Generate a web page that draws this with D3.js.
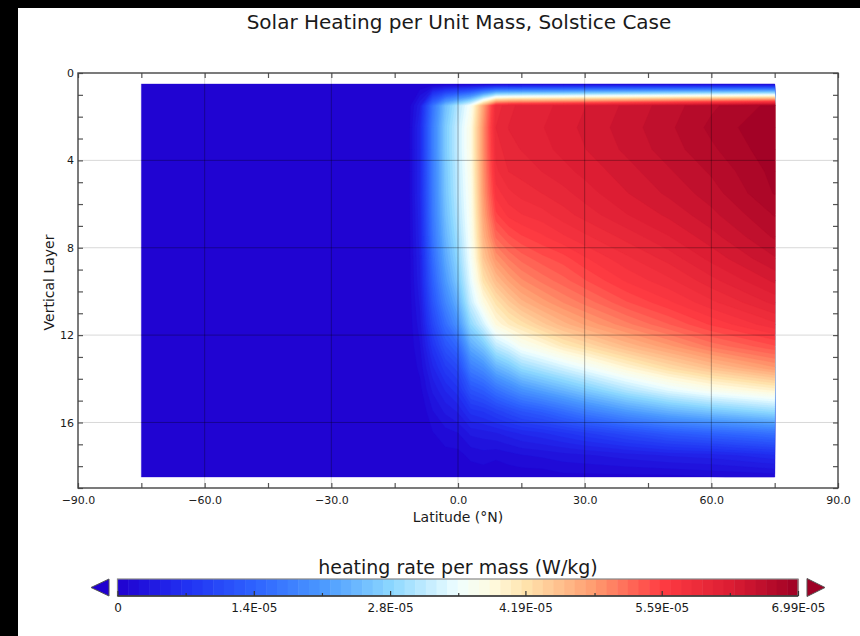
<!DOCTYPE html>
<html>
<head>
<meta charset="utf-8">
<script src="https://cdn.jsdelivr.net/npm/d3@7"></script>
<style>
  body { margin: 0; background: #fff; }
  svg { display: block; }
  text { font-family: "DejaVu Sans", sans-serif; fill: #1a1a1a; }
</style>
</head>
<body>
<svg id="chart" width="860" height="636"></svg>
<script>
// grid latitudes (deg N), one column of the heating table each
const lats = [-75, -12, -9, -6, -3, 0, 3, 6, 9, 12, 15, 20, 25, 30, 40, 50, 60, 75]
// vertical positions of the grid rows (layer interfaces)
const layers = [0.5, 1.5, 2.5, 3.5, 4.5, 5.5, 6.5, 7.5, 8.5, 9.5, 10.5, 11.5, 12.5, 13.5, 14.5, 15.5, 16.5, 17.5, 18.5]

// heating rate per mass in units of 1e-5 W/kg, one row per latitude, top of the column first
const heating = [
  [0, 0, 0, 0, 0, 0, 0, 0, 0, 0, 0, 0, 0, 0, 0, 0, 0, 0, 0],
  [0, 0, 0, 0, 0, 0, 0, 0, 0, 0, 0, 0, 0, 0, 0, 0, 0, 0, 0],
  [0, 0.42, 0.56, 0.56, 0.56, 0.56, 0.52, 0.49, 0.45, 0.42, 0.35, 0.28, 0.21, 0.14, 0.07, 0, 0, 0, 0],
  [0, 1.61, 1.75, 1.75, 1.73, 1.71, 1.68, 1.61, 1.50, 1.36, 1.19, 0.98, 0.73, 0.52, 0.35, 0.21, 0.10, 0.03, 0],
  [0, 2.52, 2.66, 2.66, 2.62, 2.59, 2.52, 2.41, 2.27, 2.10, 1.85, 1.54, 1.19, 0.84, 0.56, 0.35, 0.17, 0.07, 0],
  [0, 3.08, 3.22, 3.22, 3.18, 3.15, 3.08, 2.97, 2.83, 2.66, 2.38, 2.03, 1.47, 1.05, 0.73, 0.45, 0.21, 0.07, 0],
  [0, 3.63, 3.77, 3.77, 3.74, 3.70, 3.67, 3.63, 3.56, 3.43, 3.22, 2.83, 2.31, 1.75, 1.19, 0.70, 0.35, 0.14, 0.03],
  [0, 4.82, 4.96, 4.96, 4.93, 4.89, 4.79, 4.65, 4.47, 4.19, 3.81, 3.29, 2.62, 1.96, 1.33, 0.77, 0.38, 0.17, 0.03],
  [0, 5.94, 6.01, 5.94, 5.87, 5.73, 5.54, 5.26, 4.93, 4.58, 4.19, 3.84, 3.15, 2.38, 1.61, 0.91, 0.42, 0.14, 0],
  [0, 6.08, 6.12, 6.08, 6.01, 5.87, 5.71, 5.44, 5.14, 4.82, 4.44, 4.05, 3.36, 2.59, 1.82, 1.05, 0.49, 0.17, 0.03],
  [0, 6.15, 6.15, 6.12, 6.05, 5.94, 5.78, 5.55, 5.28, 5.00, 4.65, 4.19, 3.63, 2.87, 2.03, 1.19, 0.56, 0.21, 0.03],
  [0, 6.19, 6.22, 6.19, 6.12, 6.01, 5.85, 5.66, 5.42, 5.17, 4.86, 4.44, 3.84, 3.08, 2.24, 1.33, 0.63, 0.24, 0.03],
  [0, 6.26, 6.29, 6.26, 6.19, 6.08, 5.96, 5.77, 5.52, 5.31, 5.03, 4.65, 4.09, 3.29, 2.45, 1.54, 0.73, 0.28, 0.07],
  [0, 6.33, 6.36, 6.33, 6.26, 6.17, 6.05, 5.87, 5.66, 5.45, 5.17, 4.82, 4.26, 3.50, 2.66, 1.75, 0.84, 0.31, 0.07],
  [0, 6.47, 6.50, 6.47, 6.40, 6.33, 6.22, 6.05, 5.87, 5.70, 5.45, 5.10, 4.61, 3.91, 3.08, 2.10, 1.05, 0.38, 0.07],
  [0, 6.61, 6.64, 6.61, 6.54, 6.47, 6.36, 6.22, 6.05, 5.87, 5.66, 5.35, 4.89, 4.26, 3.43, 2.38, 1.26, 0.45, 0.07],
  [0, 6.75, 6.80, 6.75, 6.68, 6.61, 6.52, 6.40, 6.26, 6.08, 5.87, 5.59, 5.17, 4.54, 3.70, 2.59, 1.40, 0.49, 0.10],
  [0, 6.92, 6.99, 6.96, 6.92, 6.89, 6.78, 6.68, 6.54, 6.36, 6.15, 5.87, 5.45, 4.89, 3.98, 2.87, 1.61, 0.63, 0.14]
]

const xTicks = [-90, -75, -60, -45, -30, -15, 0, 15, 30, 45, 60, 75, 90]
const xLabels = [-90, -60, -30, 0, 30, 60, 90]
const yTicks = [0, 1, 2, 3, 4, 5, 6, 7, 8, 9, 10, 11, 12, 13, 14, 15, 16, 17, 18, 19]
const yLabels = [0, 4, 8, 12, 16]

// colour bar range and labels
const vmin = 0, vmax = 6.99e-5
const barTicks = [0, 1.4e-5, 2.8e-5, 4.19e-5, 5.59e-5, 6.99e-5]
const barLabels = ["0", "1.4E-05", "2.8E-05", "4.19E-05", "5.59E-05", "6.99E-05"]
const barMinor = [0.7e-5, 2.1e-5, 3.5e-5, 4.9e-5, 6.29e-5]

// colour map stops, as a fraction of the range
const cmapPos = [0, 0.1, 0.2, 0.3, 0.4, 0.5, 0.55, 0.6, 0.7, 0.8, 0.9, 1]
const cmapColors = ["#2000cf", "#2131f2", "#2e62ff", "#4a98ff", "#8ad6ff", "#effeff",
  "#fffbe0", "#ffe3ac", "#ff9c6f", "#ff3b42", "#dc1d33", "#9e0025"]
const nLevels = 64

const svg = d3.select("#chart")

// page background, with the dark strips of the original screenshot
svg.append("rect").attr("width", 860).attr("height", 636).attr("fill", "#fff")
svg.append("rect").attr("width", 18).attr("height", 636).attr("fill", "#000")
svg.append("rect").attr("width", 860).attr("height", 8).attr("fill", "#000")

// plot frame
const plotLeft = 78, plotRight = 838, plotTop = 73, plotBottom = 488
const x = d3.scaleLinear().domain([-90, 90]).range([plotLeft, plotRight])
const y = d3.scaleLinear().domain([0, 19]).range([plotTop, plotBottom])

const color = d3.scaleLinear()
  .domain(cmapPos.map(p => vmin + p * (vmax - vmin)))
  .range(cmapColors)
  .interpolate(d3.interpolateRgb)

// light grid behind the field
const grid = svg.append("g")
grid.selectAll("line.gx")
  .data(xLabels.slice(1, -1))
  .join("line")
  .attr("x1", d => x(d)).attr("x2", d => x(d))
  .attr("y1", plotTop).attr("y2", plotBottom)
  .attr("stroke", "#d8d8d8")
grid.selectAll("line.gy")
  .data(yLabels.slice(1))
  .join("line")
  .attr("x1", plotLeft).attr("x2", plotRight)
  .attr("y1", d => y(d)).attr("y2", d => y(d))
  .attr("stroke", "#d8d8d8")

// the field: filled bands from d3.contours, mapped from grid index to lat / layer
const values = []
layers.forEach((l, j) => lats.forEach((lat, i) => values.push(heating[i][j] * 1e-5)))

const thresholds = d3.range(nLevels).map(k => vmin + k * (vmax - vmin) / nLevels)
const bands = d3.contours()
  .size([lats.length, layers.length])
  .thresholds(thresholds)(values)

const col = d3.scaleLinear().domain(d3.range(lats.length)).range(lats).clamp(true)
const row = d3.scaleLinear().domain(d3.range(layers.length)).range(layers).clamp(true)
const toPlot = d3.geoTransform({
  point: function (px, py) {
    this.stream.point(x(col(px - 0.5)), y(row(py - 0.5)))
  }
})
const path = d3.geoPath(toPlot)

svg.append("g")
  .selectAll("path")
  .data(bands)
  .join("path")
  .attr("d", path)
  .attr("fill", d => color(d.value + (vmax - vmin) / nLevels / 2))
  .attr("stroke", d => color(d.value + (vmax - vmin) / nLevels / 2))
  .attr("stroke-width", 0.3)

// darker grid on top of the field
svg.append("clipPath").attr("id", "fieldClip")
  .append("rect")
  .attr("x", x(lats[0])).attr("y", y(layers[0]))
  .attr("width", x(lats[lats.length - 1]) - x(lats[0]))
  .attr("height", y(layers[layers.length - 1]) - y(layers[0]))
const overGrid = svg.append("g").attr("clip-path", "url(#fieldClip)")
overGrid.selectAll("line.gx")
  .data(xLabels.slice(1, -1))
  .join("line")
  .attr("x1", d => x(d)).attr("x2", d => x(d))
  .attr("y1", plotTop).attr("y2", plotBottom)
  .attr("stroke", "#000").attr("stroke-opacity", 0.3)
overGrid.selectAll("line.gy")
  .data(yLabels.slice(1))
  .join("line")
  .attr("x1", plotLeft).attr("x2", plotRight)
  .attr("y1", d => y(d)).attr("y2", d => y(d))
  .attr("stroke", "#000").attr("stroke-opacity", 0.3)

// axes, ticks pointing inwards
const xFmt = d3.format(".1f")
svg.append("g")
  .attr("transform", `translate(0,${plotBottom})`)
  .call(d3.axisBottom(x).tickValues(xTicks).tickSize(-5).tickSizeOuter(0).tickPadding(8)
    .tickFormat(d => xLabels.includes(d) ? xFmt(d) : ""))
svg.append("g")
  .attr("transform", `translate(0,${plotTop})`)
  .call(d3.axisTop(x).tickValues(xTicks).tickSize(-5).tickSizeOuter(0).tickFormat(""))
svg.append("g")
  .attr("transform", `translate(${plotLeft},0)`)
  .call(d3.axisLeft(y).tickValues(yTicks).tickSize(-5).tickSizeOuter(0).tickPadding(4)
    .tickFormat(d => yLabels.includes(d) ? d : ""))
svg.append("g")
  .attr("transform", `translate(${plotRight},0)`)
  .call(d3.axisRight(y).tickValues(yTicks).tickSize(-5).tickSizeOuter(0).tickFormat(""))

svg.selectAll(".tick line").attr("stroke", "#555").attr("stroke-width", 1.2)
svg.selectAll(".domain").attr("stroke", "none")
svg.selectAll(".tick text")
  .style("font-family", "DejaVu Sans, sans-serif")
  .style("font-size", "11px")
  .attr("fill", "#222")

svg.append("rect")
  .attr("x", plotLeft).attr("y", plotTop)
  .attr("width", plotRight - plotLeft).attr("height", plotBottom - plotTop)
  .attr("fill", "none").attr("stroke", "#444").attr("stroke-width", 1.4)

// titles
svg.append("text")
  .attr("x", 459).attr("y", 29)
  .attr("text-anchor", "middle")
  .style("font-size", "20px")
  .text("Solar Heating per Unit Mass, Solstice Case")

svg.append("text")
  .attr("x", 458).attr("y", 522)
  .attr("text-anchor", "middle")
  .style("font-size", "14px")
  .text("Latitude (°N)")

svg.append("text")
  .attr("transform", `translate(54,${(plotTop + plotBottom) / 2 + 2}) rotate(-90)`)
  .attr("text-anchor", "middle")
  .style("font-size", "14px")
  .text("Vertical Layer")

// colour bar
const bx = d3.scaleLinear().domain([vmin, vmax]).range([117.5, 798])
const barTop = 579, barBottom = 596
const steps = d3.range(nLevels).map(k => vmin + k * (vmax - vmin) / nLevels)

svg.append("text")
  .attr("x", 458).attr("y", 574)
  .attr("text-anchor", "middle")
  .style("font-size", "19px")
  .text("heating rate per mass (W/kg)")

svg.append("g")
  .selectAll("rect")
  .data(steps)
  .join("rect")
  .attr("x", d => bx(d))
  .attr("y", barTop)
  .attr("width", (bx(vmax) - bx(vmin)) / nLevels + 0.5)
  .attr("height", barBottom - barTop)
  .attr("fill", d => color(d + (vmax - vmin) / nLevels / 2))

svg.append("rect")
  .attr("x", bx(vmin)).attr("y", barTop)
  .attr("width", bx(vmax) - bx(vmin)).attr("height", barBottom - barTop)
  .attr("fill", "none").attr("stroke", "#888").attr("stroke-width", 1.2)

svg.append("line")
  .attr("x1", bx(vmin)).attr("x2", bx(vmax))
  .attr("y1", barBottom).attr("y2", barBottom)
  .attr("stroke", "#333").attr("stroke-width", 1.4)

svg.append("g")
  .attr("transform", `translate(0,${barBottom})`)
  .call(d3.axisBottom(bx).tickValues(barTicks).tickSize(-5).tickSizeOuter(0).tickPadding(7)
    .tickFormat((d, i) => barLabels[i]))
  .call(g => g.select(".domain").remove())
  .call(g => g.selectAll("line").attr("stroke", "#333").attr("stroke-width", 1.2))
  .call(g => g.selectAll("text").style("font-family", "DejaVu Sans, sans-serif")
    .style("font-size", "12px").attr("fill", "#222"))

svg.append("g")
  .attr("transform", `translate(0,${barBottom})`)
  .call(d3.axisBottom(bx).tickValues(barMinor).tickSize(-3).tickSizeOuter(0).tickFormat(""))
  .call(g => g.select(".domain").remove())
  .call(g => g.selectAll("line").attr("stroke", "#333").attr("stroke-width", 1.2))

// out-of-range arrows
svg.append("path")
  .attr("d", d3.line()([[91, 587.5], [109, 579], [109, 596]]) + "Z")
  .attr("fill", color(vmin)).attr("stroke", "#555").attr("stroke-width", 1)
svg.append("path")
  .attr("d", d3.line()([[807, 578.5], [825, 587.5], [807, 596.5]]) + "Z")
  .attr("fill", color(vmax)).attr("stroke", "#555").attr("stroke-width", 1)
</script>
</body>
</html>
